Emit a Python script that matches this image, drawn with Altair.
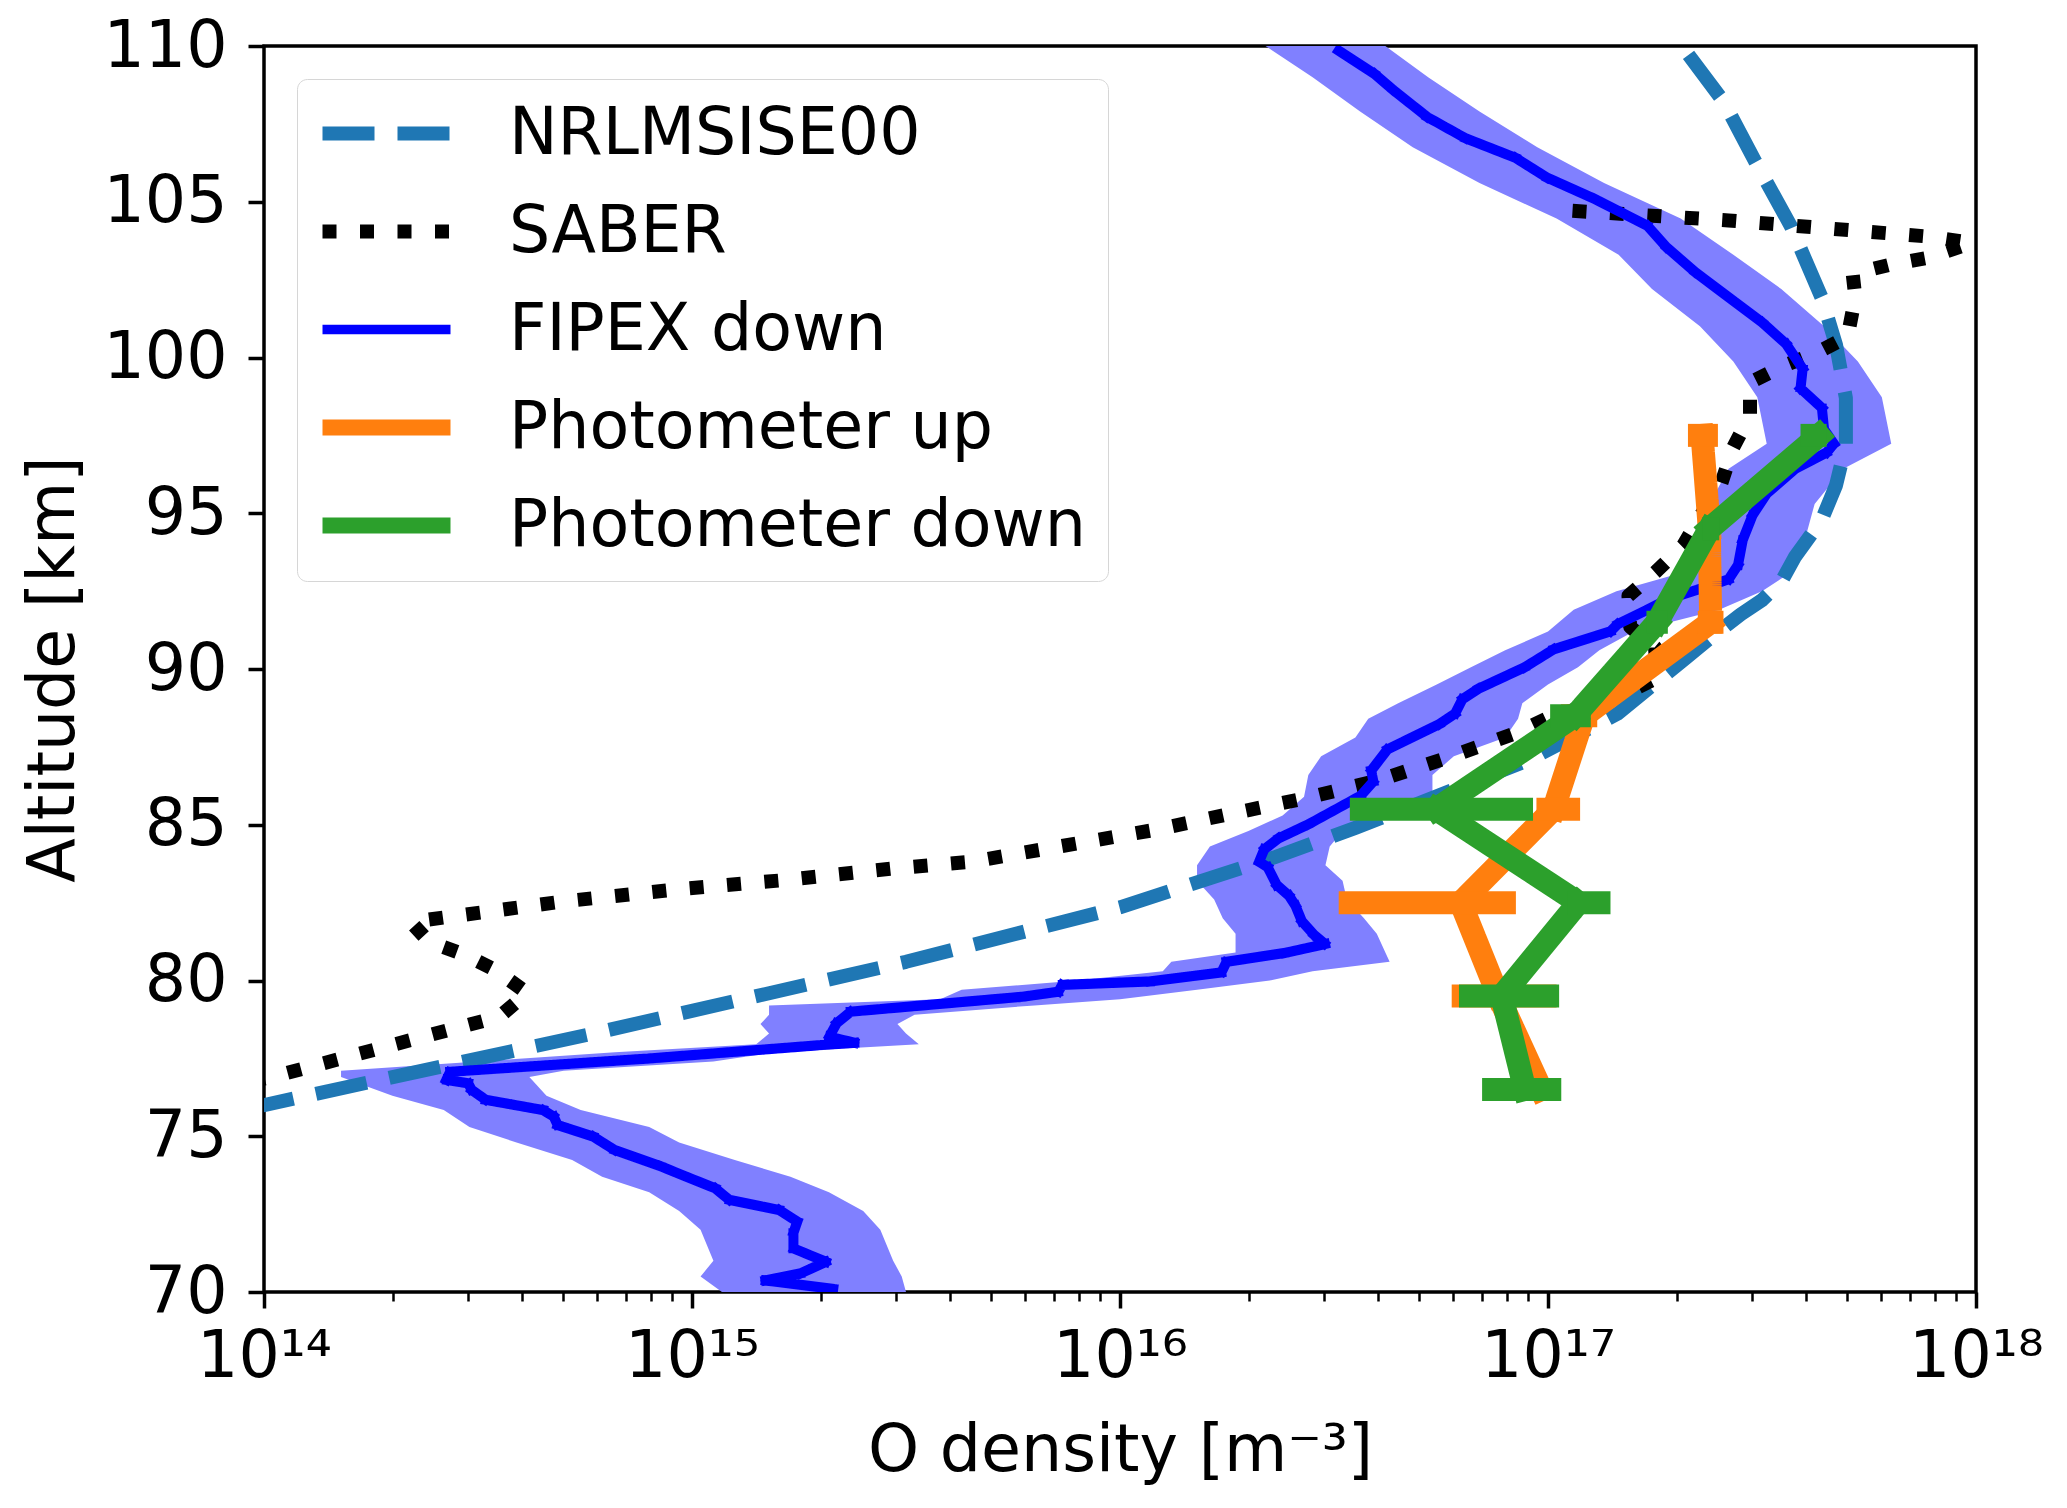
import json
import numpy as np
import pandas as pd
import altair as alt

# values; densities are given as log10(n / m^-3)

# NRLMSISE00 model profile
msis_alt = [75.85, 76.0, 78.3, 80.6, 82.35, 83.95, 84.9, 85.7, 87.08, 88.57, 90.35, 90.98,
            91.75, 92.21, 92.8, 93.6, 94.8, 95.9, 97.2, 98.7, 100.4, 101.9, 104.2, 106.3,
            108.2, 109.74, 110.1]
msis_log = [13.95, 14.0, 14.77, 15.5, 16.0, 16.36, 16.55, 16.70, 16.955, 17.163, 17.322, 17.378,
            17.45, 17.50, 17.545, 17.577, 17.640, 17.673, 17.696, 17.696, 17.673, 17.640, 17.568, 17.484,
            17.411, 17.327, 17.31]

# SABER profile
saber_alt = [76.75, 77.02, 77.93, 78.84, 79.6, 80.34, 80.82, 81.25, 81.88, 82.53, 82.91, 83.23,
             83.6, 83.82, 84.84, 85.34, 85.84, 86.41, 87.14, 87.94, 88.46, 88.85, 89.2, 89.72,
             90.7, 91.35, 92.35, 93.16, 93.97, 95.0, 95.97, 97.12, 98.15, 99.2, 99.7, 100.16,
             100.67, 101.94, 102.68, 102.97, 103.2, 103.68, 103.88, 104.4, 104.74]
saber_log = [13.97, 14.05, 14.30, 14.55, 14.615, 14.54, 14.47, 14.385, 14.343, 14.694, 14.953, 15.221,
             15.472, 15.656, 16.083, 16.254, 16.429, 16.60, 16.763, 16.925, 17.005, 17.10, 17.18, 17.255,
             17.25, 17.192, 17.188, 17.255, 17.316, 17.36, 17.405, 17.433, 17.472, 17.472, 17.545, 17.629,
             17.70, 17.718, 17.712, 17.796, 17.886, 17.99, 17.891, 17.422, 17.02]

# FIPEX down profile
fipex_alt = [70.1, 70.37, 70.6, 70.97, 71.4, 71.9, 72.26, 72.63, 72.96, 73.33, 73.7, 74.03,
             74.56, 74.99, 75.36, 75.63, 75.84, 76.17, 76.49, 76.7, 76.81, 77.07, 77.5, 77.93,
             78.0, 78.2, 78.63, 79.0, 79.48, 79.64, 79.86, 79.97, 80.26, 80.6, 80.89, 81.17,
             81.46, 81.9, 82.4, 82.72, 83.07, 83.64, 83.81, 84.21, 84.56, 85.02, 85.93, 86.39,
             86.74, 87.42, 88.23, 88.57, 89.03, 89.37, 90.06, 90.63, 91.21, 91.44, 91.89, 92.24,
             92.55, 92.88, 93.34, 94.14, 94.94, 95.63, 96.43, 96.95, 97.23, 97.69, 98.38, 99.01,
             99.64, 100.44, 101.13, 101.82, 102.74, 103.54, 104.23, 105.09, 105.78, 106.41, 107.04,
             107.72, 108.58, 109.10, 109.85]
fipex_log = [15.33, 15.171, 15.254, 15.313, 15.237, 15.237, 15.246, 15.204, 15.087, 15.054, 14.987, 14.928,
             14.819, 14.769, 14.686, 14.677, 14.652, 14.518, 14.485, 14.477, 14.426, 14.435, 14.903, 15.304,
             15.380, 15.321, 15.338, 15.371, 15.773, 15.856, 15.865, 16.07, 16.237, 16.249, 16.387, 16.479,
             16.454, 16.425, 16.41, 16.395, 16.366, 16.345, 16.325, 16.337, 16.37, 16.441, 16.562, 16.592,
             16.587, 16.625, 16.746, 16.783, 16.80, 16.838, 16.946, 17.013, 17.146, 17.163, 17.23, 17.28,
             17.35, 17.422, 17.444, 17.455, 17.478, 17.511, 17.578, 17.651, 17.668, 17.645, 17.64, 17.590,
             17.595, 17.556, 17.50, 17.433, 17.344, 17.277, 17.232, 17.109, 16.997, 16.924, 16.807,
             16.718, 16.639, 16.595, 16.511]

# FIPEX uncertainty band
band_alt = [70.0, 70.5, 71.0, 72.0, 72.6, 73.2, 73.7, 74.24, 74.8, 75.3, 75.84, 76.3, 76.9,
            77.1, 77.4, 77.7, 77.95, 78.3, 78.6, 78.9, 79.2, 79.4, 79.7, 80.0, 80.3, 80.6,
            80.9, 81.5, 82.0, 82.6, 83.2, 83.7, 84.3, 84.8, 85.3, 85.9, 86.6, 87.2, 87.8,
            88.4, 88.9, 89.5, 90.06, 90.6, 91.2, 91.9, 92.5, 93.0, 94.14, 95.3, 96.43, 97.23,
            98.72, 99.87, 101.0, 102.2, 103.3, 104.46, 105.6, 106.75, 107.9, 109.0, 110.0]
band_lo = [15.07, 15.02, 15.05, 15.02, 14.97, 14.90, 14.79, 14.72, 14.59, 14.48, 14.42, 14.30, 14.18,
           14.18, 14.50, 14.82, 15.15, 15.18, 15.16, 15.18, 15.18, 15.58, 15.63, 15.90, 16.10, 16.12,
           16.27, 16.27, 16.24, 16.22, 16.18, 16.18, 16.21, 16.30, 16.38, 16.43, 16.44, 16.47, 16.55,
           16.58, 16.65, 16.74, 16.82, 16.90, 17.00, 17.06, 17.16, 17.29, 17.334, 17.377, 17.422, 17.511,
           17.489, 17.433, 17.355, 17.243, 17.165, 17.02, 16.84, 16.684, 16.561, 16.45, 16.34]
band_hi = [15.50, 15.49, 15.47, 15.44, 15.40, 15.32, 15.23, 15.10, 14.97, 14.90, 14.74, 14.66, 14.62,
           14.70, 15.05, 15.20, 15.53, 15.50, 15.48, 15.52, 15.80, 16.00, 16.18, 16.35, 16.45, 16.63,
           16.62, 16.60, 16.57, 16.53, 16.52, 16.48, 16.49, 16.52, 16.62, 16.73, 16.73, 16.78, 16.90,
           16.93, 16.94, 17.00, 17.07, 17.12, 17.20, 17.40, 17.50, 17.556, 17.60, 17.623, 17.69, 17.802,
           17.78, 17.724, 17.645, 17.545, 17.433, 17.31, 17.131, 16.975, 16.84, 16.72, 16.62]

# photometer profiles with x error bars
phot_alt = [76.5, 79.5, 82.5, 85.5, 88.5, 91.5, 94.5, 97.5]
up_log = [16.984, 16.884, 16.796, 17.013, 17.084, 17.38, 17.377, 17.36]
up_lo = [16.87, 16.775, 16.511, 16.973, 17.03, 17.35, 17.35, 17.327]
up_hi = [17.02, 17.02, 16.925, 17.075, 17.115, 17.41, 17.40, 17.397]
down_log = [16.946, 16.892, 17.071, 16.738, 17.063, 17.255, 17.377, 17.633]
down_lo = [16.846, 16.792, 17.046, 16.537, 17.005, 17.23, 17.36, 17.59]
down_hi = [17.031, 17.026, 17.146, 16.965, 17.10, 17.28, 17.40, 17.651]

series = ["NRLMSISE00", "SABER", "FIPEX down", "Photometer up", "Photometer down"]
colors = ["#1f77b4", "black", "#0000ff", "#ff7f0e", "#2ca02c"]
dashes = [[52, 23], [14, 23.5], [1, 0], [1, 0], [1, 0]]

x_tick_labels = ["10¹⁴", "10¹⁵", "10¹⁶", "10¹⁷", "10¹⁸"]
x_tick_values = [m * 10 ** e for e in range(14, 18) for m in range(1, 10)] + [10 ** 18]
y_tick_values = [70, 75, 80, 85, 90, 95, 100, 105, 110]


def profile(name, alt_km, log_n):
    return pd.DataFrame({"series": name, "alt": alt_km,
                         "n": 10.0 ** np.array(log_n), "i": np.arange(len(alt_km))})


def bars(alt_km, lo, hi):
    return pd.DataFrame({"alt": alt_km, "lo": 10.0 ** np.array(lo), "hi": 10.0 ** np.array(hi)})


FONT = "DejaVu Sans"
FS = 65

major = "abs(log(datum.value) / LN10 - round(log(datum.value) / LN10)) < 0.001"
label_expr = (f"{major} ? {json.dumps(x_tick_labels)}"
              "[round(log(datum.value) / LN10) - 14] : ''")

x_scale = alt.Scale(type="log", domain=[1e14, 1e18], nice=False)
y_scale = alt.Scale(domain=[70, 110], nice=False, zero=False)

x_axis = alt.Axis(
    values=x_tick_values, title="O density [m⁻³]", labelExpr=label_expr,
    labelFlush=False, labelOverlap=False, labelFontSize=FS, labelPadding=17,
    tickSize={"condition": {"test": major, "value": 16}, "value": 9},
    tickWidth={"condition": {"test": major, "value": 3.5}, "value": 2.5},
    titleFontSize=FS, titleFontWeight="normal", titleBaseline="alphabetic",
    titleX=856, titleY=178, titleAlign="center",
)
y_axis = alt.Axis(
    values=y_tick_values, title="Altitude [km]", labelFontSize=FS, labelPadding=21,
    tickSize=16, tickWidth=3.5,
    titleFontSize=FS, titleFontWeight="normal", titleAngle=270, titleBaseline="alphabetic",
    titleX=-191, titleY=623, titleAlign="center",
)

# legend line widths per entry
width_expr = ("datum.value === 'Photometer up' || datum.value === 'Photometer down' ? 16 : "
              "datum.value === 'FIPEX down' ? 9.5 : 14")
legend = alt.Legend(
    title=None, orient="none", legendX=33, legendY=33,
    symbolType="stroke", symbolSize=16384, symbolStrokeWidth=alt.ExprRef(width_expr),
    symbolOffset=35,
    labelFont=FONT, labelFontSize=FS, labelColor="black", labelLimit=1200, labelOffset=90,
    padding=22, rowPadding=32, fillColor="white", strokeColor="#d6d6d6", cornerRadius=10,
)
color = alt.Color("series:N", scale=alt.Scale(domain=series, range=colors), legend=legend)
dash = alt.StrokeDash("series:N", scale=alt.Scale(domain=series, range=dashes), legend=legend)

X = alt.X("n:Q", scale=x_scale, axis=x_axis)
Y = alt.Y("alt:Q", scale=y_scale, axis=y_axis)
XL = alt.X("lo:Q", scale=x_scale, axis=x_axis)

band = alt.Chart(bars(band_alt, band_lo, band_hi)).mark_area(
    orient="horizontal", color="#8080ff", opacity=1, clip=True
).encode(x=XL, x2="hi:Q", y=Y)


def line(name, alt_km, log_n, width, cap):
    return alt.Chart(profile(name, alt_km, log_n)).mark_line(
        strokeWidth=width, strokeCap=cap, strokeJoin="round", clip=True
    ).encode(x=X, y=Y, color=color, strokeDash=dash, order="i:Q")


def err(col, lo, hi):
    return alt.Chart(bars(phot_alt, lo, hi)).mark_rule(
        strokeWidth=23, strokeCap="butt", color=col, clip=True
    ).encode(x=XL, x2="hi:Q", y=Y)


layers = [
    band,
    line(series[0], msis_alt, msis_log, 14, "butt"),
    line(series[1], saber_alt, saber_log, 14, "butt"),
    line(series[2], fipex_alt, fipex_log, 10, "square"),
    line(series[3], phot_alt, up_log, 23, "square"),
    err(colors[3], up_lo, up_hi),
    line(series[4], phot_alt, down_log, 23, "square"),
    err(colors[4], down_lo, down_hi),
]

chart = alt.layer(*layers).properties(
    width=1712, height=1246,
    autosize=alt.AutoSizeParams(type="none"),
    padding={"left": 256, "top": 38, "right": 83, "bottom": 198},
).configure(font=FONT).configure_view(
    stroke="black", strokeWidth=3.5
).configure_axis(
    domain=False, grid=False, tickColor="black", labelColor="black", titleColor="black",
    labelFont=FONT, titleFont=FONT,
)

chart.save("out.html", embed_options={"renderer": "svg", "actions": False})
